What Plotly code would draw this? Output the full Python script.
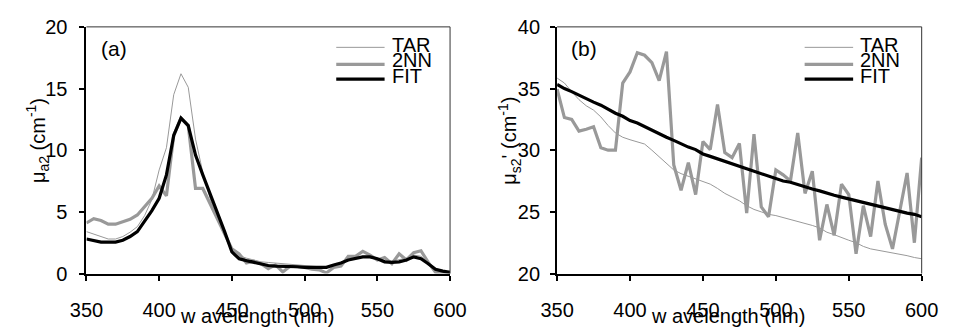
import plotly.graph_objects as go

wavelength = list(range(350, 601, 5))

# panel (a): absorption mu_a2 (cm^-1)
a_tar = [3.4, 3.2, 3.0, 2.8, 2.8, 3.0, 3.35, 3.8, 4.7, 6.0,
         8.4, 10.2, 14.5, 16.2, 15.1, 10.9, 8.2, 6.1, 4.4, 3.1,
         2.0, 1.45, 1.25, 1.1, 0.95, 0.9, 0.85, 0.8, 0.7, 0.65,
         0.6, 0.58, 0.55, 0.55, 0.7, 0.85, 1.1, 1.25, 1.4, 1.4,
         1.2, 1.05, 1.0, 1.1, 1.25, 1.5, 1.4, 0.9, 0.4, 0.2, 0.1]
a_2nn = [4.1, 4.45, 4.3, 4.0, 4.0, 4.2, 4.4, 4.75, 5.4, 6.1,
         7.1, 6.3, 11.2, 12.6, 12.0, 6.9, 6.9, 5.7, 4.4, 3.2,
         2.0, 1.6, 0.85, 1.0, 0.8, 0.4, 0.7, 0.13, 0.6, 0.55,
         0.5, 0.35, 0.3, 0.05, 0.5, 0.6, 1.4, 1.4, 1.8, 1.5,
         1.1, 1.3, 0.8, 1.6, 1.1, 1.7, 1.85, 0.9, 0.1, 0.05, 0.1]
a_fit = [2.8, 2.65, 2.55, 2.55, 2.55, 2.7, 3.0, 3.4, 4.2, 5.1,
         6.1, 8.0, 11.2, 12.6, 12.0, 9.6, 8.0, 6.5, 4.9, 3.4,
         1.75, 1.2, 1.05, 0.9, 0.75, 0.65, 0.6, 0.6, 0.55, 0.55,
         0.5, 0.5, 0.5, 0.5, 0.7, 0.85, 1.1, 1.2, 1.35, 1.35,
         1.2, 0.95, 0.9, 0.95, 1.1, 1.35, 1.2, 0.8, 0.35, 0.2, 0.1]

# panel (b): reduced scattering mu_s2' (cm^-1)
b_tar = [35.85, 35.45, 34.75, 34.1, 33.6, 33.25, 32.7, 32.0, 31.4, 31.05,
         30.85, 30.7, 30.5, 30.0, 29.45, 28.9, 28.4, 28.1, 27.9, 27.65,
         27.5, 27.25, 26.9, 26.5, 26.2, 25.9, 25.5, 25.2, 25.0, 24.8,
         24.7, 24.55, 24.4, 24.2, 24.05, 23.9, 23.7, 23.35, 23.15, 22.9,
         22.7, 22.5, 22.2, 22.0, 21.9, 21.8, 21.7, 21.55, 21.45, 21.3, 21.2]
b_2nn = [34.95, 32.65, 32.5, 31.55, 31.7, 31.9, 30.2, 30.0, 30.0, 35.45,
         36.35, 37.9, 37.7, 37.1, 35.65, 38.0, 28.8, 26.75, 29.0, 26.4,
         30.7, 30.05, 33.7, 29.8, 29.4, 30.55, 24.9, 31.3, 25.4, 24.6,
         28.4, 28.0, 27.5, 31.4, 26.5, 28.3, 22.7, 25.6, 23.1, 27.25,
         26.4, 21.6, 25.5, 23.0, 27.5, 24.0, 22.0, 25.1, 28.15, 22.5, 29.4]
b_fit = [35.33, 35.0, 34.75, 34.45, 34.15, 33.9, 33.65, 33.3, 33.0, 32.75,
         32.4, 32.2, 31.9, 31.6, 31.3, 31.05, 30.8, 30.5, 30.25, 30.05,
         29.7, 29.5, 29.3, 29.05, 28.85, 28.65, 28.45, 28.3, 28.1, 27.9,
         27.7, 27.5, 27.4, 27.2, 27.0, 26.85, 26.7, 26.5, 26.35, 26.2,
         26.05, 25.9, 25.8, 25.6, 25.45, 25.3, 25.2, 25.05, 24.9, 24.8, 24.6]

x_ticks = [350, 400, 450, 500, 550, 600]
series_names = ["TAR", "2NN", "FIT"]
styles = {"TAR": dict(color="#999999", width=1),
          "2NN": dict(color="#999999", width=3.2),
          "FIT": dict(color="#000000", width=3.2)}

FONT = "Liberation Sans, Arial, sans-serif"
FS = 20

fig = go.Figure()
panels = [("x", "y", [a_tar, a_2nn, a_fit]), ("x2", "y2", [b_tar, b_2nn, b_fit])]
for xa, ya, data in panels:
    for name, vals in zip(series_names, data):
        fig.add_trace(go.Scatter(x=wavelength, y=vals, mode="lines", name=name,
                                 line=styles[name], xaxis=xa, yaxis=ya,
                                 showlegend=False))

ydom = [(335 - 281) / 335, (335 - 17) / 335]
axis_common = dict(showgrid=False, zeroline=False, showline=True, linecolor="black",
                   linewidth=2, ticks="outside", ticklen=5, tickwidth=1.5, tickcolor="black",
                   tickfont=dict(family=FONT, size=FS, color="black"))
fig.update_layout(
    width=957, height=335, margin=dict(l=0, r=0, t=0, b=0),
    plot_bgcolor="white", paper_bgcolor="white",
    xaxis=dict(domain=[72 / 957, 449 / 957], range=[350, 600], tickvals=x_ticks,
               anchor="y", ticklabelstandoff=12, **axis_common),
    yaxis=dict(domain=ydom, range=[0, 20], tickvals=[0, 5, 10, 15, 20],
               anchor="x", ticklabelstandoff=8, **axis_common),
    xaxis2=dict(domain=[560 / 957, 938 / 957], range=[350, 600], tickvals=x_ticks,
                anchor="y2", ticklabelstandoff=12, **axis_common),
    yaxis2=dict(domain=ydom, range=[20, 40], tickvals=[20, 25, 30, 35, 40],
                anchor="x2", ticklabelstandoff=6, **axis_common),
)

shapes = []
annotations = []
for xr, yr, label, ytitle, ytx, xl0, xl1, xt in [
        ("x", "y", "(a)", "μ<sub>a2</sub> (cm<sup>-1</sup>)", 22 / 957, 0.687, 0.820, 0.834),
        ("x2", "y2", "(b)", "μ<sub>s2</sub>' (cm<sup>-1</sup>)", 511 / 957, 0.679, 0.812, 0.826)]:
    # plot-area frame (top and right)
    shapes.append(dict(type="line", xref=xr + " domain", yref=yr + " domain",
                       x0=0, x1=1, y0=1, y1=1, line=dict(color="#333333", width=1)))
    shapes.append(dict(type="line", xref=xr + " domain", yref=yr + " domain",
                       x0=1, x1=1, y0=0, y1=1, line=dict(color="#333333", width=1)))
    # legend
    for name, yl, yt in zip(series_names, [0.917, 0.848, 0.788], [0.928, 0.864, 0.799]):
        shapes.append(dict(type="line", xref=xr + " domain", yref=yr + " domain",
                           x0=xl0, x1=xl1, y0=yl, y1=yl, line=styles[name]))
        annotations.append(dict(xref=xr + " domain", yref=yr + " domain", x=xt, y=yt,
                                text=name, showarrow=False, xanchor="left", yanchor="middle",
                                font=dict(family=FONT, size=FS, color="black")))
    annotations.append(dict(xref=xr + " domain", yref=yr + " domain", x=0.034, y=0.912,
                            text=label, showarrow=False, xanchor="left", yanchor="middle",
                            font=dict(family=FONT, size=21, color="black")))
    annotations.append(dict(xref="paper", yref="paper", x=ytx, y=(335 - 139) / 335,
                            text=ytitle, showarrow=False, textangle=-90,
                            xanchor="center", yanchor="middle",
                            font=dict(family=FONT, size=FS, color="black")))
    annotations.append(dict(xref=xr + " domain", yref="paper", x=0.468, y=(335 - 326) / 335,
                            text="w avelength (nm)", showarrow=False,
                            xanchor="center", yanchor="middle",
                            font=dict(family=FONT, size=FS, color="black")))

fig.update_layout(shapes=shapes, annotations=annotations)
fig.write_html("out.html")
